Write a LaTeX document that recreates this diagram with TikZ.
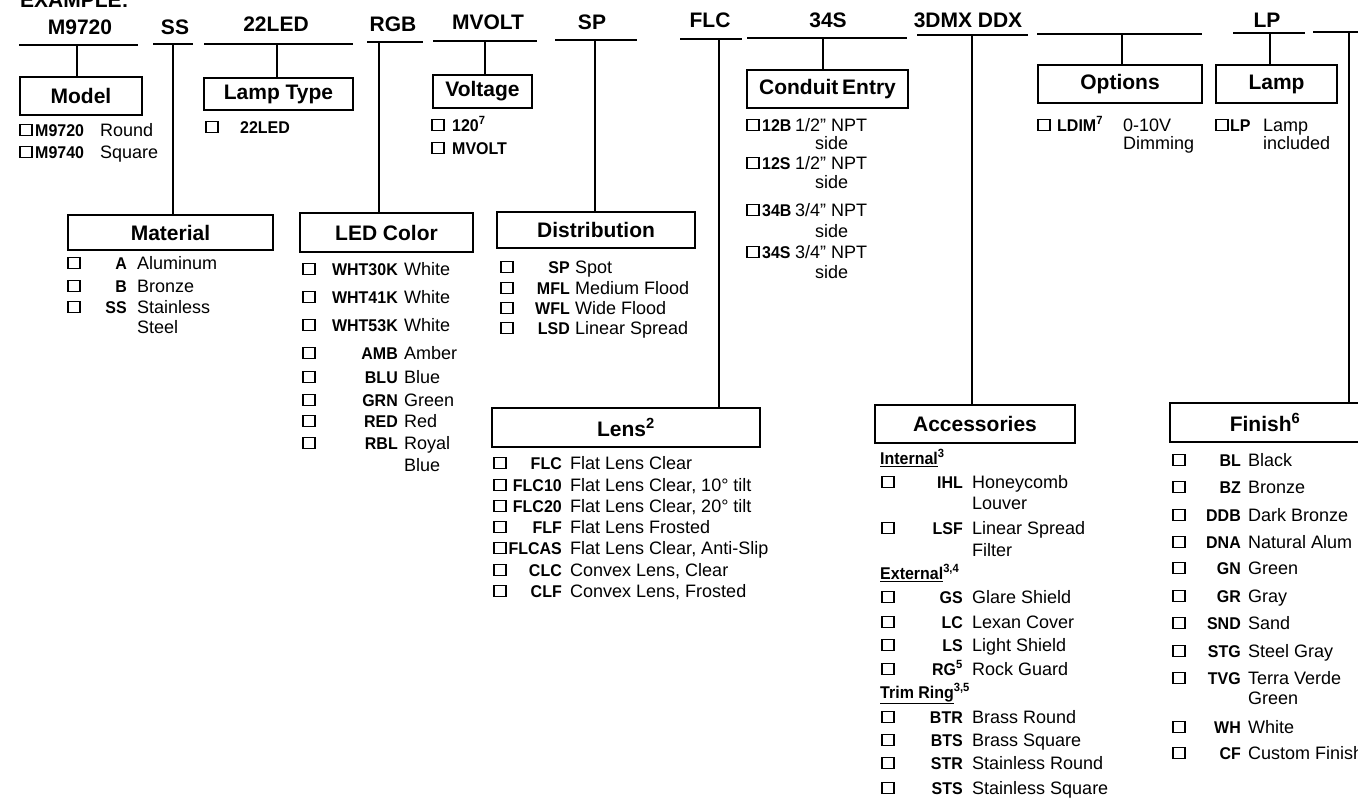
\documentclass[tikz,border=0pt]{standalone}
\usepackage{fontspec}
\setmainfont{Liberation Sans}
\newfontfamily\codefont{Liberation Sans}[FakeStretch=0.94]

\begin{document}
\begin{tikzpicture}[x=1pt,y=-1pt,
    lbl/.style={font=\bfseries\fontsize{21}{23}\selectfont, inner sep=0},
    hdr/.style={draw, line width=1.8, font=\bfseries\fontsize{21}{23}\selectfont, inner sep=0},
    cb/.style={draw, line width=1.8, minimum width=12, minimum height=11, inner sep=0},
    code/.style={font=\codefont\bfseries\fontsize{17}{19}\selectfont, inner sep=0, anchor=base east, yshift=-6.2pt},
    dsc/.style={font=\fontsize{18}{20}\selectfont, inner sep=0, anchor=base west, yshift=-6.4pt},
    sub/.style={font=\codefont\bfseries\fontsize{17}{19}\selectfont, inner sep=0, anchor=base west, yshift=-6.2pt},
    wire/.style={line width=1.8}]
    \useasboundingbox (0,0) rectangle (1358,799);
    \clip (0,0) rectangle (1358,799);

    % catalogue number
    \node[lbl, anchor=base west] (example) at (20,8) {EXAMPLE:};
    \foreach \x/\y/\t [count=\i] in {80/27/M9720, 175/27/SS, 276/24/22LED, 393/24/RGB,
        488/22/MVOLT, 592/22/SP, 710/20/FLC, 828/20/34S, 968/20/3DMX DDX, 1267/20/LP}
        \node[lbl] (top\i) at (\x,\y) {\t};
    \foreach \a/\b/\y in {19/138/45, 153/193/44, 204/353/44, 367/423/42, 433/537/41, 555/637/40,
        680/742/39, 747/907/38, 917/1028/35, 1037/1202/34, 1233/1305/33, 1313/1370/32}
        \draw[wire] (\a,\y) -- (\b,\y);

    % boxes
    \node[hdr, minimum width=122, minimum height=38] (model) at (81,96) {Model};
    \node[hdr, minimum width=149, minimum height=32] (lamptype) at (278.5,94) {Lamp Type};
    \node[hdr, minimum width=99, minimum height=33] (voltage) at (482.5,91.5) {Voltage};
    \node[hdr, minimum width=161, minimum height=38] (conduit) at (827.5,89) {Conduit\hspace{-2pt} Entry};
    \node[hdr, minimum width=164, minimum height=38] (options) at (1120,84) {Options};
    \node[hdr, minimum width=121, minimum height=38] (lamp) at (1276.5,84) {Lamp};
    \node[hdr, minimum width=205, minimum height=35] (material) at (170.5,232.5) {Material};
    \node[hdr, minimum width=173, minimum height=39] (ledcolor) at (386.5,232.5) {LED Color};
    \node[hdr, minimum width=198, minimum height=36] (distrib) at (596,230) {Distribution};
    \node[hdr, minimum width=268, minimum height=39] (lens) at (626,427.5) {Lens\textsuperscript{2}};
    \node[hdr, minimum width=200, minimum height=38] (access) at (975,424) {Accessories};
    \node[hdr, minimum width=190, minimum height=39] (finish) at (1265,422.5) {Finish\textsuperscript{6}};

    % drops from the number to the boxes
    \foreach \n/\x/\y in {model/77/45, material/173/44, lamptype/277/44, ledcolor/379/42,
        voltage/485/41, distrib/595/40, lens/719/39, conduit/823/38, access/972/35,
        options/1122/34, lamp/1270/33, finish/1349/32}{
        \coordinate (s-\n) at (\x,\y);
        \draw[wire] (s-\n) -- (s-\n |- \n.north);
    }

    % Model
    \node[cb] (mod-b1) at (26,130) {};
    \node[code, anchor=base west] (mod-c1) at (35,130) {M9720};
    \node[dsc] (mod-d1) at (100,130) {Round};
    \node[cb] (mod-b2) at (26,152) {};
    \node[code, anchor=base west] (mod-c2) at (35,152) {M9740};
    \node[dsc] (mod-d2) at (100,152) {Square};

    % Lamp type
    \node[cb] (lt-b1) at (212,127) {};
    \node[code, anchor=base west] (lt-c1) at (240,127) {22LED};

    % Voltage
    \node[cb] (volt-b1) at (438,125) {};
    \node[code, anchor=base west] (volt-c1) at (452,125) {120\textsuperscript{7}};
    \node[cb] (volt-b2) at (438,148) {};
    \node[code, anchor=base west] (volt-c2) at (452,148) {MVOLT};

    % Conduit entry
    \node[cb] (ce-b1) at (753,125) {};
    \node[code, anchor=base west] (ce-c1) at (762,125) {12B};
    \node[dsc] (ce-d1) at (795,125) {1/2” NPT};
    \node[dsc] (ce-e1) at (815,143) {side};
    \node[cb] (ce-b2) at (753,163) {};
    \node[code, anchor=base west] (ce-c2) at (762,163) {12S};
    \node[dsc] (ce-d2) at (795,163) {1/2” NPT};
    \node[dsc] (ce-e2) at (815,182) {side};
    \node[cb] (ce-b3) at (753,210) {};
    \node[code, anchor=base west] (ce-c3) at (762,210) {34B};
    \node[dsc] (ce-d3) at (795,210) {3/4” NPT};
    \node[dsc] (ce-e3) at (815,231) {side};
    \node[cb] (ce-b4) at (753,252) {};
    \node[code, anchor=base west] (ce-c4) at (762,252) {34S};
    \node[dsc] (ce-d4) at (795,252) {3/4” NPT};
    \node[dsc] (ce-e4) at (815,272) {side};

    % Options
    \node[cb] (opt-b1) at (1044,125) {};
    \node[code, anchor=base west] (opt-c1) at (1057,125) {LDIM\textsuperscript{7}};
    \node[dsc] (opt-d1) at (1123,125) {0-10V};
    \node[dsc] (opt-e1) at (1123,143) {Dimming};

    % Lamp
    \node[cb] (lp-b1) at (1222,125) {};
    \node[code, anchor=base west] (lp-c1) at (1230,125) {LP};
    \node[dsc] (lp-d1) at (1263,125) {Lamp};
    \node[dsc] (lp-e1) at (1263,143) {included};

    % Material
    \foreach \y/\c/\d [count=\i] in {263/A/Aluminum, 286/B/Bronze, 307/SS/Stainless}{
        \node[cb] (mat-b\i) at (74,\y) {};
        \node[code] (mat-c\i) at (127,\y) {\c};
        \node[dsc] (mat-d\i) at (137,\y) {\d};
    }
    \node[dsc] (mat-e3) at (137,327) {Steel};

    % LED color
    \foreach \y/\c/\d [count=\i] in {269/WHT30K/White, 297/WHT41K/White, 325/WHT53K/White,
        353/AMB/Amber, 377/BLU/Blue, 400/GRN/Green, 421/RED/Red, 443/RBL/Royal}{
        \node[cb] (led-b\i) at (309,\y) {};
        \node[code] (led-c\i) at (398,\y) {\c};
        \node[dsc] (led-d\i) at (404,\y) {\d};
    }
    \node[dsc] (led-e8) at (404,465) {Blue};

    % Distribution
    \foreach \y/\c/\d [count=\i] in {267/SP/Spot, 288/MFL/Medium Flood, 308/WFL/Wide Flood,
        328/LSD/Linear Spread}{
        \node[cb] (dist-b\i) at (507,\y) {};
        \node[code] (dist-c\i) at (570,\y) {\c};
        \node[dsc] (dist-d\i) at (575,\y) {\d};
    }

    % Lens
    \foreach \y/\c/\d [count=\i] in {463/FLC/Flat Lens Clear, 485/FLC10/{Flat Lens Clear, 10° tilt},
        506/FLC20/{Flat Lens Clear, 20° tilt}, 527/FLF/Flat Lens Frosted,
        548/FLCAS/{Flat Lens Clear, Anti-Slip}, 570/CLC/{Convex Lens, Clear},
        591/CLF/{Convex Lens, Frosted}}{
        \node[cb] (lens-b\i) at (500,\y) {};
        \node[code] (lens-c\i) at (562,\y) {\c};
        \node[dsc] (lens-d\i) at (570,\y) {\d};
    }

    % Accessories
    \node[sub] (acc-int) at (880,458) {\underline{Internal}\textsuperscript{3}};
    \node[sub] (acc-ext) at (880,573) {\underline{External}\textsuperscript{3,4}};
    \node[sub] (acc-trim) at (880,692) {\underline{Trim Ring}\textsuperscript{3,5}};
    \foreach \y/\c/\d [count=\i] in {482/IHL/Honeycomb, 528/LSF/Linear Spread, 597/GS/Glare Shield,
        622/LC/Lexan Cover, 645/LS/Light Shield, 669/RG\textsuperscript{5}/Rock Guard,
        717/BTR/Brass Round, 740/BTS/Brass Square, 763/STR/Stainless Round,
        788/STS/Stainless Square}{
        \node[cb] (acc-b\i) at (888,\y) {};
        \node[code] (acc-c\i) at (963,\y) {\c};
        \node[dsc] (acc-d\i) at (972,\y) {\d};
    }
    \node[dsc] (acc-e1) at (972,503) {Louver};
    \node[dsc] (acc-e2) at (972,550) {Filter};

    % Finish
    \foreach \y/\c/\d [count=\i] in {460/BL/Black, 487/BZ/Bronze, 515/DDB/Dark Bronze,
        542/DNA/Natural Alum, 568/GN/Green, 596/GR/Gray, 623/SND/Sand, 651/STG/Steel Gray,
        678/TVG/Terra Verde, 727/WH/White, 753/CF/Custom Finish}{
        \node[cb] (fin-b\i) at (1179,\y) {};
        \node[code] (fin-c\i) at (1241,\y) {\c};
        \node[dsc] (fin-d\i) at (1248,\y) {\d};
    }
    \node[dsc] (fin-e9) at (1248,698) {Green};
\end{tikzpicture}
\end{document}
